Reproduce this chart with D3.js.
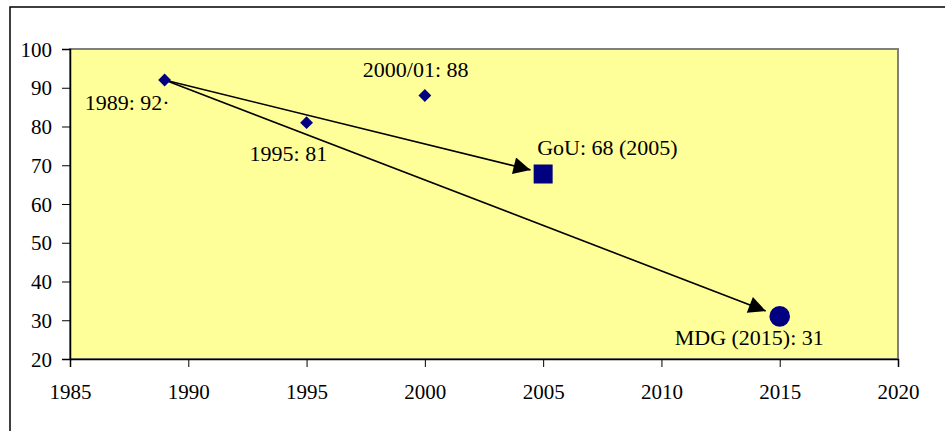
<!DOCTYPE html>
<html>
<head>
<meta charset="utf-8">
<script src="https://cdn.jsdelivr.net/npm/d3@7"></script>
<style>
  html, body { margin: 0; padding: 0; background: #fff; }
  svg { display: block; }
</style>
</head>
<body>
<svg id="chart" width="945" height="431"></svg>
<script>
// Survey observations (year, percentage)
const surveyYears = [1989, 1995, 2000];
const surveyValues = [92, 81, 88];
const surveyLabels = ["1989: 92·", "1995: 81", "2000/01: 88"];

// Targets
const targetNames = ["GoU", "MDG"];
const targetYears = [2005, 2015];
const targetValues = [68, 31];
const targetLabels = ["GoU: 68 (2005)", "MDG (2015): 31"];

// Axis ticks
const xTicks = [1985, 1990, 1995, 2000, 2005, 2010, 2015, 2020];
const yTicks = [20, 30, 40, 50, 60, 70, 80, 90, 100];

const FONT = "Liberation Serif";

const svg = d3.select("#chart");
const plot = { left: 70, top: 49, right: 898, bottom: 359 };

const x = d3.scaleLinear().domain([1985, 2020]).range([plot.left, plot.right]);
const y = d3.scaleLinear().domain([20, 100]).range([plot.bottom, plot.top]);

// Outer frame
svg.append("rect")
  .attr("x", 10).attr("y", 7).attr("width", 1000).attr("height", 1000)
  .attr("fill", "none").attr("stroke", "#000").attr("stroke-width", 1.5);

// Plot area
svg.append("rect")
  .attr("x", plot.left).attr("y", plot.top)
  .attr("width", plot.right - plot.left).attr("height", plot.bottom - plot.top)
  .attr("fill", "#FFFF99").attr("stroke", "#808080").attr("stroke-width", 2);

// Axes
const xAxis = svg.append("g")
  .attr("transform", `translate(0,${plot.bottom})`)
  .call(d3.axisBottom(x).tickValues(xTicks).tickFormat(d3.format("d")).tickSize(8).tickPadding(17));
const yAxis = svg.append("g")
  .attr("transform", `translate(${plot.left},0)`)
  .call(d3.axisLeft(y).tickValues(yTicks).tickSize(8).tickPadding(10));

[xAxis, yAxis].forEach(g => {
  g.attr("font-family", FONT).attr("font-size", 21);
  g.select(".domain").attr("stroke", "#000").attr("stroke-width", 1.5);
  g.selectAll(".tick line").attr("stroke", "#000").attr("stroke-width", 1);
  g.selectAll("text").attr("fill", "#000");
});
yAxis.selectAll("text").attr("dy", "0.34em");

// Arrowhead
svg.append("defs").append("marker")
  .attr("id", "arrow")
  .attr("viewBox", "0 0 10 10")
  .attr("refX", 10).attr("refY", 5)
  .attr("markerUnits", "userSpaceOnUse")
  .attr("markerWidth", 21).attr("markerHeight", 17)
  .attr("orient", "auto")
  .append("path").attr("d", "M0,0 L10,5 L0,10 Z").attr("fill", "#000");

// Arrows from the 1989 observation to each target
const x0 = x(surveyYears[0]), y0 = y(surveyValues[0]);
const gaps = [13, 15];
targetYears.forEach((yr, i) => {
  const tx = x(yr), ty = y(targetValues[i]);
  const dx = tx - x0, dy = ty - y0, len = Math.hypot(dx, dy);
  const ex = tx - dx / len * gaps[i], ey = ty - dy / len * gaps[i];
  svg.append("line")
    .attr("x1", x0).attr("y1", y0).attr("x2", ex).attr("y2", ey)
    .attr("stroke", "#000").attr("stroke-width", 1.6)
    .attr("marker-end", "url(#arrow)");
});

// Survey points (diamonds)
const diamond = d3.symbol().type(d3.symbolDiamond2).size(105);
svg.selectAll(".obs").data(surveyYears).enter().append("path")
  .attr("class", "obs")
  .attr("d", diamond)
  .attr("transform", (d, i) => `translate(${x(d)},${y(surveyValues[i])})`)
  .attr("fill", "#000080");

// Targets: square (GoU) and circle (MDG)
svg.append("rect")
  .attr("x", x(targetYears[0]) - 9.5).attr("y", y(targetValues[0]) - 8.5)
  .attr("width", 19).attr("height", 19)
  .attr("fill", "#000080");
svg.append("circle")
  .attr("cx", x(targetYears[1])).attr("cy", y(targetValues[1]))
  .attr("r", 10.3).attr("fill", "#000080");

// Data labels (offsets from each point, left edge / baseline)
const labelPos = [
  { dx: -80, dy: 30 },
  { dx: -57, dy: 38 },
  { dx: -62, dy: -19 }
];
svg.selectAll(".obs-label").data(surveyLabels).enter().append("text")
  .attr("class", "obs-label")
  .attr("x", (d, i) => x(surveyYears[i]) + labelPos[i].dx)
  .attr("y", (d, i) => y(surveyValues[i]) + labelPos[i].dy)
  .attr("font-family", FONT).attr("font-size", 22)
  .text(d => d);

const targetPos = [
  { dx: -6, dy: -18 },
  { dx: -105, dy: 29 }
];
svg.selectAll(".target-label").data(targetLabels).enter().append("text")
  .attr("class", "target-label")
  .attr("x", (d, i) => x(targetYears[i]) + targetPos[i].dx)
  .attr("y", (d, i) => y(targetValues[i]) + targetPos[i].dy)
  .attr("font-family", FONT).attr("font-size", 22)
  .text(d => d);
</script>
</body>
</html>
